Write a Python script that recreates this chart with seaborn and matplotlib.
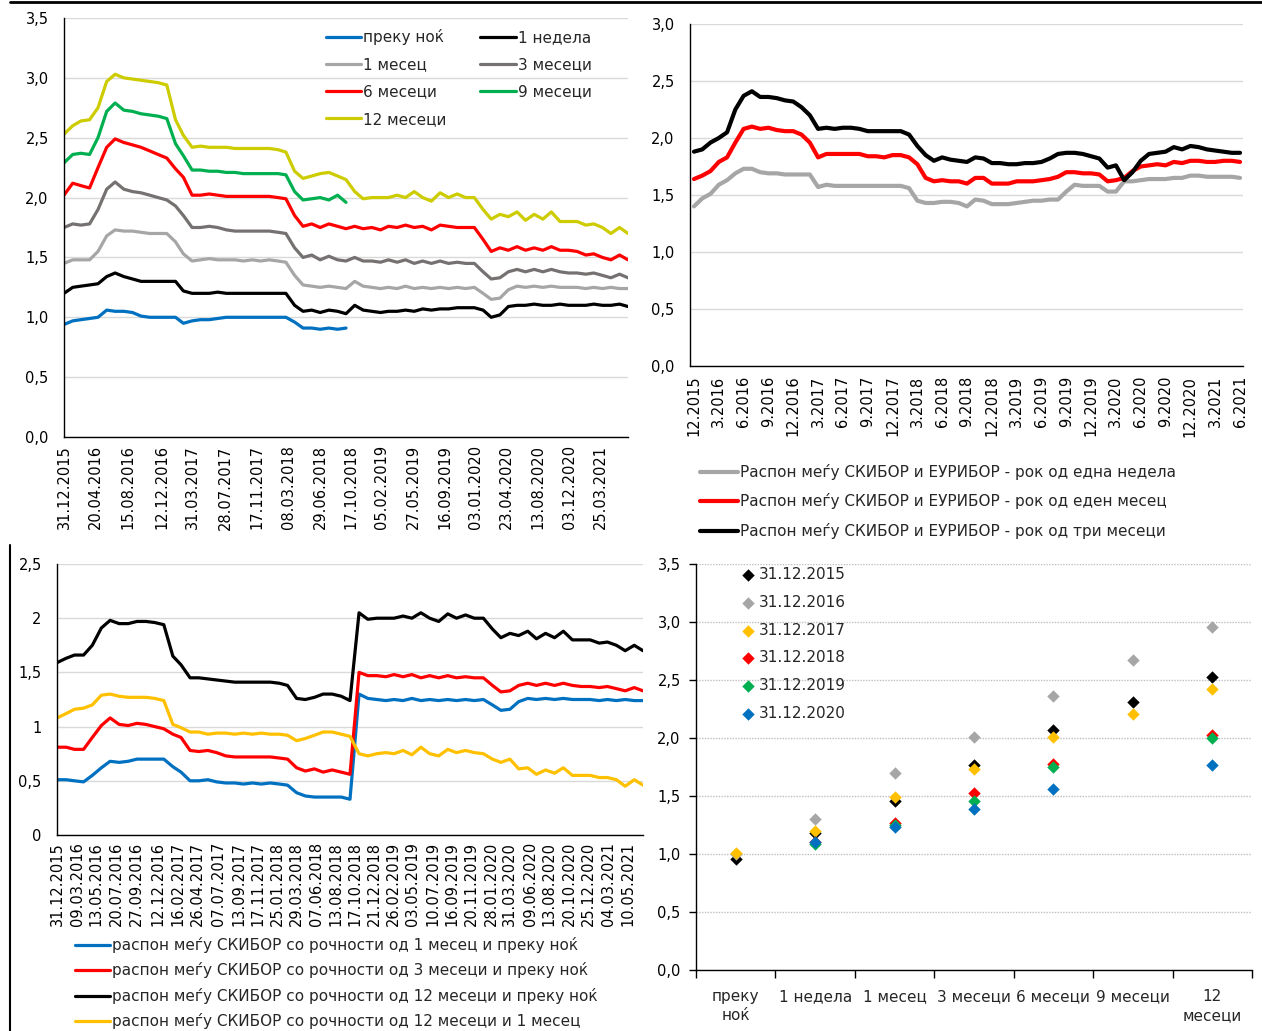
import numpy as np
import pandas as pd
import seaborn as sns
import matplotlib.pyplot as plt
from matplotlib.lines import Line2D

nan = np.nan

# month-end dates, Dec 2015 .. Jun 2021 (67 points)
month_dates = pd.period_range('2015-12', '2021-06', freq='M').to_timestamp() + pd.offsets.MonthEnd(0)

# ---- top left: SKIBOR by maturity (Dec 2015, then one row per year 2016..2021)
skibor_on = [0.94,
    0.97, 0.98, 0.99, 1.00, 1.06, 1.05, 1.05, 1.04, 1.01, 1.00, 1.00, 1.00,
    1.00, 0.95, 0.97, 0.98, 0.98, 0.99, 1.00, 1.00, 1.00, 1.00, 1.00, 1.00,
    1.00, 1.00, 0.96, 0.91, 0.91, 0.90, 0.91, 0.90, 0.91] + [nan] * 33
skibor_1w = [1.20,
    1.25, 1.26, 1.27, 1.28, 1.34, 1.37, 1.34, 1.32, 1.30, 1.30, 1.30, 1.30,
    1.30, 1.22, 1.20, 1.20, 1.20, 1.21, 1.20, 1.20, 1.20, 1.20, 1.20, 1.20,
    1.20, 1.20, 1.10, 1.05, 1.06, 1.04, 1.06, 1.05, 1.03, 1.10, 1.06, 1.05,
    1.04, 1.05, 1.05, 1.06, 1.05, 1.07, 1.06, 1.07, 1.07, 1.08, 1.08, 1.08,
    1.06, 1.00, 1.02, 1.09, 1.10, 1.10, 1.11, 1.10, 1.10, 1.11, 1.10, 1.10,
    1.10, 1.11, 1.10, 1.10, 1.11, 1.09]
skibor_1m = [1.45,
    1.48, 1.48, 1.48, 1.55, 1.68, 1.73, 1.72, 1.72, 1.71, 1.70, 1.70, 1.70,
    1.63, 1.53, 1.47, 1.48, 1.49, 1.48, 1.48, 1.48, 1.47, 1.48, 1.47, 1.48,
    1.47, 1.46, 1.35, 1.27, 1.26, 1.25, 1.26, 1.25, 1.24, 1.30, 1.26, 1.25,
    1.24, 1.25, 1.24, 1.26, 1.24, 1.25, 1.24, 1.25, 1.24, 1.25, 1.24, 1.25,
    1.20, 1.15, 1.16, 1.23, 1.26, 1.25, 1.26, 1.25, 1.26, 1.25, 1.25, 1.25,
    1.24, 1.25, 1.24, 1.25, 1.24, 1.24]
skibor_3m = [1.75,
    1.78, 1.77, 1.78, 1.90, 2.07, 2.13, 2.07, 2.05, 2.04, 2.02, 2.00, 1.98,
    1.93, 1.85, 1.75, 1.75, 1.76, 1.75, 1.73, 1.72, 1.72, 1.72, 1.72, 1.72,
    1.71, 1.70, 1.58, 1.50, 1.52, 1.48, 1.51, 1.48, 1.47, 1.50, 1.47, 1.47,
    1.46, 1.48, 1.46, 1.48, 1.45, 1.47, 1.45, 1.47, 1.45, 1.46, 1.45, 1.45,
    1.38, 1.32, 1.33, 1.38, 1.40, 1.38, 1.40, 1.38, 1.40, 1.38, 1.37, 1.37,
    1.36, 1.37, 1.35, 1.33, 1.36, 1.33]
skibor_6m = [2.02,
    2.12, 2.10, 2.08, 2.25, 2.42, 2.49, 2.46, 2.44, 2.42, 2.39, 2.36, 2.33,
    2.24, 2.17, 2.02, 2.02, 2.03, 2.02, 2.01, 2.01, 2.01, 2.01, 2.01, 2.01,
    2.00, 1.99, 1.85, 1.76, 1.78, 1.75, 1.78, 1.76, 1.74, 1.76, 1.74, 1.75,
    1.73, 1.76, 1.75, 1.77, 1.75, 1.76, 1.73, 1.77, 1.76, 1.75, 1.75, 1.75,
    1.65, 1.55, 1.58, 1.56, 1.59, 1.56, 1.58, 1.56, 1.59, 1.56, 1.56, 1.55,
    1.52, 1.53, 1.50, 1.48, 1.52, 1.48]
skibor_9m = [2.29,
    2.36, 2.37, 2.36, 2.50, 2.72, 2.79, 2.73, 2.72, 2.70, 2.69, 2.68, 2.66,
    2.45, 2.35, 2.23, 2.23, 2.22, 2.22, 2.21, 2.21, 2.20, 2.20, 2.20, 2.20,
    2.20, 2.19, 2.05, 1.98, 1.99, 2.00, 1.98, 2.02, 1.96] + [nan] * 33
skibor_12m = [2.53,
    2.60, 2.64, 2.65, 2.75, 2.97, 3.03, 3.00, 2.99, 2.98, 2.97, 2.96, 2.94,
    2.65, 2.52, 2.42, 2.43, 2.42, 2.42, 2.42, 2.41, 2.41, 2.41, 2.41, 2.41,
    2.40, 2.38, 2.22, 2.16, 2.18, 2.20, 2.21, 2.18, 2.15, 2.05, 1.99, 2.00,
    2.00, 2.00, 2.02, 2.00, 2.05, 2.00, 1.97, 2.04, 2.00, 2.03, 2.00, 2.00,
    1.90, 1.82, 1.86, 1.84, 1.88, 1.81, 1.86, 1.82, 1.88, 1.80, 1.80, 1.80,
    1.77, 1.78, 1.75, 1.70, 1.75, 1.70]

tl_names = ['преку ноќ', '1 месец', '6 месеци', '12 месеци', '1 недела', '3 месеци', '9 месеци']
tl_values = [skibor_on, skibor_1m, skibor_6m, skibor_12m, skibor_1w, skibor_3m, skibor_9m]
tl_colors = ['#0070C0', '#A6A6A6', '#FF0000', '#CCCC00', '#000000', '#767171', '#00B050']
tl_ticks = ['31.12.2015', '20.04.2016', '15.08.2016', '12.12.2016', '31.03.2017', '28.07.2017',
            '17.11.2017', '08.03.2018', '29.06.2018', '17.10.2018', '05.02.2019', '27.05.2019',
            '16.09.2019', '03.01.2020', '23.04.2020', '13.08.2020', '03.12.2020', '25.03.2021']
y35_labels = ['0,0', '0,5', '1,0', '1,5', '2,0', '2,5', '3,0', '3,5']

# ---- top right: SKIBOR - EURIBOR spreads (monthly)
spread_1w = [1.40,
    1.47, 1.51, 1.59, 1.63, 1.69, 1.73, 1.73, 1.70, 1.69, 1.69, 1.68, 1.68,
    1.68, 1.68, 1.57, 1.59, 1.58, 1.58, 1.58, 1.58, 1.58, 1.58, 1.58, 1.58,
    1.58, 1.56, 1.45, 1.43, 1.43, 1.44, 1.44, 1.43, 1.40, 1.46, 1.45, 1.42,
    1.42, 1.42, 1.43, 1.44, 1.45, 1.45, 1.46, 1.46, 1.53, 1.59, 1.58, 1.58,
    1.58, 1.53, 1.53, 1.62, 1.62, 1.63, 1.64, 1.64, 1.64, 1.65, 1.65, 1.67,
    1.67, 1.66, 1.66, 1.66, 1.66, 1.65]
spread_1m = [1.64,
    1.67, 1.71, 1.79, 1.83, 1.96, 2.08, 2.10, 2.08, 2.09, 2.07, 2.06, 2.06,
    2.03, 1.96, 1.83, 1.86, 1.86, 1.86, 1.86, 1.86, 1.84, 1.84, 1.83, 1.85,
    1.85, 1.83, 1.77, 1.65, 1.62, 1.63, 1.62, 1.62, 1.60, 1.65, 1.65, 1.60,
    1.60, 1.60, 1.62, 1.62, 1.62, 1.63, 1.64, 1.66, 1.70, 1.70, 1.69, 1.69,
    1.68, 1.62, 1.63, 1.65, 1.71, 1.75, 1.76, 1.77, 1.76, 1.79, 1.78, 1.80,
    1.80, 1.79, 1.79, 1.80, 1.80, 1.79]
spread_3m = [1.88,
    1.90, 1.96, 2.00, 2.05, 2.25, 2.37, 2.41, 2.36, 2.36, 2.35, 2.33, 2.32,
    2.27, 2.20, 2.08, 2.09, 2.08, 2.09, 2.09, 2.08, 2.06, 2.06, 2.06, 2.06,
    2.06, 2.03, 1.93, 1.85, 1.80, 1.83, 1.81, 1.80, 1.79, 1.83, 1.82, 1.78,
    1.78, 1.77, 1.77, 1.78, 1.78, 1.79, 1.82, 1.86, 1.87, 1.87, 1.86, 1.84,
    1.82, 1.74, 1.76, 1.63, 1.70, 1.80, 1.86, 1.87, 1.88, 1.92, 1.90, 1.93,
    1.92, 1.90, 1.89, 1.88, 1.87, 1.87]
tr_names = ['Распон меѓу СКИБОР и ЕУРИБОР - рок од една недела',
            'Распон меѓу СКИБОР и ЕУРИБОР - рок од еден месец',
            'Распон меѓу СКИБОР и ЕУРИБОР - рок од три месеци']
tr_colors = ['#A6A6A6', '#FF0000', '#000000']
tr_ticks = ['12.2015', '3.2016', '6.2016', '9.2016', '12.2016', '3.2017', '6.2017', '9.2017',
            '12.2017', '3.2018', '6.2018', '9.2018', '12.2018', '3.2019', '6.2019', '9.2019',
            '12.2019', '3.2020', '6.2020', '9.2020', '12.2020', '3.2021', '6.2021']
y30_labels = ['0,0', '0,5', '1,0', '1,5', '2,0', '2,5', '3,0']

# ---- bottom left: spreads between maturities (built from the top-left series)
bl_names = ['распон меѓу СКИБОР со рочности од 1 месец и преку ноќ',
            'распон меѓу СКИБОР со рочности од 3 месеци и преку ноќ',
            'распон меѓу СКИБОР со рочности од 12 месеци и преку ноќ',
            'распон меѓу СКИБОР со рочности од 12 месеци и 1 месец']
bl_colors = ['#0070C0', '#FF0000', '#000000', '#FFC000']
bl_ticks = ['31.12.2015', '09.03.2016', '13.05.2016', '20.07.2016', '27.09.2016', '12.12.2016',
            '16.02.2017', '26.04.2017', '07.07.2017', '13.09.2017', '17.11.2017', '25.01.2018',
            '29.03.2018', '07.06.2018', '13.08.2018', '17.10.2018', '21.12.2018', '26.02.2019',
            '03.05.2019', '10.07.2019', '16.09.2019', '20.11.2019', '28.01.2020', '31.03.2020',
            '09.06.2020', '13.08.2020', '20.10.2020', '25.12.2020', '04.03.2021', '10.05.2021']
y25_labels = ['0', '0,5', '1', '1,5', '2', '2,5']

# ---- bottom right: yield curve at year ends
br_categories = ['преку\nноќ', '1 недела', '1 месец', '3 месеци', '6 месеци', '9 месеци', '12\nмесеци']
br_dates = ['31.12.2015', '31.12.2016', '31.12.2017', '31.12.2018', '31.12.2019', '31.12.2020']
curve_2015 = [0.96, 1.18, 1.46, 1.77, 2.07, 2.31, 2.53]
curve_2016 = [1.00, 1.30, 1.70, 2.01, 2.36, 2.67, 2.96]
curve_2017 = [1.01, 1.20, 1.49, 1.73, 2.01, 2.21, 2.42]
curve_2018 = [nan, 1.10, 1.27, 1.53, 1.78, nan, 2.03]
curve_2019 = [nan, 1.09, 1.25, 1.46, 1.75, nan, 2.00]
curve_2020 = [nan, 1.10, 1.23, 1.39, 1.56, nan, 1.77]
br_curves = [curve_2015, curve_2016, curve_2017, curve_2018, curve_2019, curve_2020]
br_colors = ['#000000', '#A6A6A6', '#FFC000', '#FF0000', '#00B050', '#0070C0']

sns.set_theme(style="white")
plt.rcParams['font.family'] = ['DejaVu Sans']
plt.rcParams['xtick.labelsize'] = 10.5
plt.rcParams['ytick.labelsize'] = 10.5

W, H = 1262, 1031
fig = plt.figure(figsize=(W / 100, H / 100), dpi=100)


def box(left, top, right, bottom):
    return [left / W, 1 - bottom / H, (right - left) / W, (bottom - top) / H]


def fig_xy(x, y):
    return (x / W, 1 - y / H)


def style_axes(ax, ymax, ylabels, grid_ls='-'):
    ax.set_ylim(0, ymax)
    ax.set_yticks(np.arange(len(ylabels)) * 0.5)
    ax.set_yticklabels(ylabels)
    ax.grid(axis='y', color='#D9D9D9', linewidth=1, linestyle=grid_ls)
    ax.grid(axis='x', visible=False)
    ax.spines['top'].set_visible(False)
    ax.spines['right'].set_visible(False)
    for side in ['left', 'bottom']:
        ax.spines[side].set_color('black')
        ax.spines[side].set_linewidth(1.0)
    ax.tick_params(axis='both', length=0, colors='black')
    ax.tick_params(axis='y', pad=11)
    ax.set_xlabel('')
    ax.set_ylabel('')
    ax.set_axisbelow(True)


x_start, x_end = pd.Timestamp('2015-12-31'), pd.Timestamp('2021-06-30')

# top left
ax1 = fig.add_axes(box(64, 18, 628, 437))
for name, vals, col in zip(tl_names, tl_values, tl_colors):
    sns.lineplot(x=month_dates, y=vals, color=col, linewidth=2.3, label=name, ax=ax1)
style_axes(ax1, 3.5, y35_labels)
ax1.set_xlim(x_start, x_end)
ax1.set_xticks(pd.to_datetime(tl_ticks, dayfirst=True))
ax1.set_xticklabels(tl_ticks, rotation=90)
ax1.tick_params(axis='x', pad=6)
h, l = ax1.get_legend_handles_labels()
ax1.legend(h, l, ncol=2, loc='upper left', bbox_to_anchor=fig_xy(326, 29),
           bbox_transform=fig.transFigure, frameon=False, fontsize=11,
           handlelength=2.3, handletextpad=0.15, columnspacing=2.2,
           labelspacing=0.8, borderpad=0, borderaxespad=0)

# top right
ax2 = fig.add_axes(box(690, 24, 1243, 366))
month_idx = np.arange(len(month_dates))
for name, vals, col in zip(tr_names, [spread_1w, spread_1m, spread_3m], tr_colors):
    sns.lineplot(x=month_idx, y=vals, color=col, linewidth=3, label=name, ax=ax2)
style_axes(ax2, 3.0, y30_labels)
ax2.set_xlim(-0.48, 66.36)
ax2.set_xticks(month_idx[::3])
ax2.set_xticklabels(tr_ticks, rotation=90)
ax2.tick_params(axis='x', pad=7)
h, l = ax2.get_legend_handles_labels()
ax2.legend(h, l, loc='upper left', bbox_to_anchor=fig_xy(700, 464),
           bbox_transform=fig.transFigure, frameon=False, fontsize=11,
           handlelength=2.5, handletextpad=0.15, labelspacing=0.88,
           borderpad=0, borderaxespad=0)

# bottom left
ax3 = fig.add_axes(box(57, 564, 643, 835))
on_filled = np.nan_to_num(np.array(skibor_on))
one_m = np.array(skibor_1m)
three_m = np.array(skibor_3m)
twelve_m = np.array(skibor_12m)
bl_values = [one_m - on_filled, three_m - on_filled, twelve_m - on_filled, twelve_m - one_m]
for name, vals, col in zip(bl_names, bl_values, bl_colors):
    sns.lineplot(x=month_dates, y=vals, color=col, linewidth=2.3, label=name, ax=ax3)
style_axes(ax3, 2.5, y25_labels)
ax3.set_xlim(x_start, x_end)
ax3.set_xticks(pd.to_datetime(bl_ticks, dayfirst=True))
ax3.set_xticklabels(bl_ticks, rotation=90)
ax3.tick_params(axis='x', pad=5)
h, l = ax3.get_legend_handles_labels()
ax3.legend(h, l, loc='upper left', bbox_to_anchor=fig_xy(75, 937),
           bbox_transform=fig.transFigure, frameon=False, fontsize=11,
           handlelength=2.3, handletextpad=0.15, labelspacing=0.62,
           borderpad=0, borderaxespad=0)

# bottom right
ax4 = fig.add_axes(box(696, 564, 1252, 970))
cat_idx = np.arange(len(br_categories))
for lbl, vals, col in zip(br_dates, br_curves, br_colors):
    sns.scatterplot(x=cat_idx, y=vals, color=col, marker='D', s=40, linewidth=0,
                    label=lbl, ax=ax4, zorder=3)
style_axes(ax4, 3.5, y35_labels, grid_ls=(0, (1, 1)))
ax4.grid(axis='y', color='#BFBFBF', linewidth=1, linestyle=(0, (1, 1)))
ax4.set_xlim(-0.5, 6.5)
ax4.set_xticks(np.arange(-0.5, 7, 1))
ax4.set_xticklabels([])
ax4.set_xticks(cat_idx, minor=True)
ax4.set_xticklabels(br_categories, minor=True, fontsize=11)
ax4.tick_params(axis='x', which='major', bottom=True, length=6, width=1, direction='out')
ax4.tick_params(axis='x', which='minor', bottom=False, length=0, pad=14)
ax4.tick_params(axis='y', left=True, length=5, width=1, direction='out', pad=6)
for t in ax4.get_xticklabels(minor=True):
    t.set_linespacing(1.3)
h, l = ax4.get_legend_handles_labels()
ax4.legend(h, l, loc='upper left', bbox_to_anchor=fig_xy(742, 567),
           bbox_transform=fig.transFigure, frameon=False, fontsize=11,
           handlelength=0.8, handletextpad=0.3, labelspacing=0.84,
           borderpad=0, borderaxespad=0, scatterpoints=1)

# frame lines of the page
fig.add_artist(Line2D([10 / W, 1], [1 - 2 / H, 1 - 2 / H], color='black', linewidth=2))
fig.add_artist(Line2D([10 / W, 10 / W], [0, 1 - 545 / H], color='black', linewidth=1.5))

fig.savefig('out.png', dpi=100)
